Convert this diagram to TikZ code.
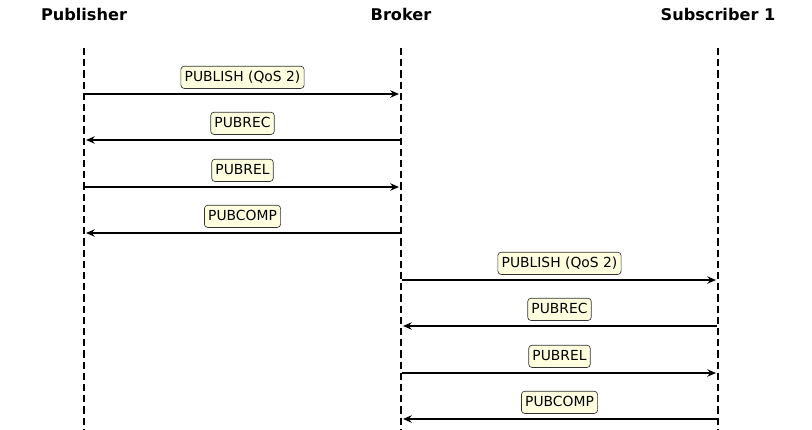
\documentclass[tikz,border=0pt]{standalone}
\usepackage{fontspec}
\setmainfont{DejaVu Sans}
\usetikzlibrary{arrows.meta}
\definecolor{notefill}{HTML}{FFFFE0}
\tikzset{
  head/.style={font=\fontsize{12.1}{14}\selectfont\bfseries},
  lifeline/.style={line width=1.4pt, dash pattern=on 5.4pt off 3pt},
  msg/.style={line width=1.3pt, -{Stealth[length=6.5pt,width=5.5pt]}, shorten >=1.5pt, shorten <=1pt},
  lbl/.style={draw=black!80, line width=0.5pt, fill=notefill, rounded corners=2.5pt,
    font=\fontsize{10.4}{12}\selectfont, inner xsep=2.8pt, inner ysep=3.5pt,
    text height=7.6pt, text depth=2.1pt, yshift=12.5pt}
}
\begin{document}
\begin{tikzpicture}[x=0.75pt, y=-0.75pt]
      \useasboundingbox (0,0) rectangle (812,429);
      % participants
      \node[head] (pub) at (84,14) {Publisher};
      \node[head] (brk) at (401,14) {Broker};
      \node[head] (sub) at (718,14) {Subscriber 1};
      \coordinate (pubtop) at (84,48);
      \coordinate (brktop) at (401,48);
      \coordinate (subtop) at (718,48);
      \coordinate (pubend) at (84,429);
      \coordinate (brkend) at (401,429);
      \coordinate (subend) at (718,429);
      \draw[lifeline] (pubtop) -- (pubend);
      \draw[lifeline] (brktop) -- (brkend);
      \draw[lifeline] (subtop) -- (subend);
      % message rows
      \foreach \i/\y in {1/94,2/140,3/187,4/233,5/280,6/326,7/373,8/419} {
        \coordinate (P\i) at (84,\y);
        \coordinate (B\i) at (401,\y);
        \coordinate (S\i) at (718,\y);
      }
      \begin{scope}
        \draw[msg] (P1) to node[lbl]{PUBLISH (QoS 2)} (B1);
        \draw[msg] (B2) to node[lbl]{PUBREC} (P2);
        \draw[msg] (P3) to node[lbl]{PUBREL} (B3);
        \draw[msg] (B4) to node[lbl]{PUBCOMP} (P4);
        \draw[msg] (B5) to node[lbl]{PUBLISH (QoS 2)} (S5);
        \draw[msg] (S6) to node[lbl]{PUBREC} (B6);
        \draw[msg] (B7) to node[lbl]{PUBREL} (S7);
        \draw[msg] (S8) to node[lbl]{PUBCOMP} (B8);
      \end{scope}
    \end{tikzpicture}
\end{document}
